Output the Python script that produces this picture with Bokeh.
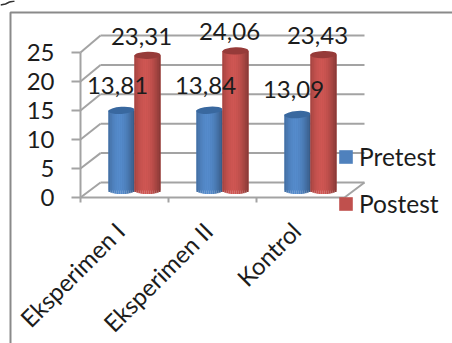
import math

from bokeh.core.properties import value
from bokeh.embed import file_html
from bokeh.models import (BoxAnnotation, FixedTicker, Legend, LegendItem,
                          LinearAxis, Range1d)
from bokeh.plotting import figure
from bokeh.resources import INLINE

categories = ["Eksperimen I", "Eksperimen II", "Kontrol"]
pretest = [13.81, 13.84, 13.09]
posttest = [23.31, 24.06, 23.43]
value_ticks = [0, 5, 10, 15, 20, 25]

W, H = 452, 343
FONT = "Lato"
TEXT = "#1c1c1c"
AXIS = "#a3a3a3"
CAT_PX = 88.0       # width of one category along the floor
X0_PX = 80.0        # left end of the front floor edge
FRONT_ZERO, PX_PER_UNIT = 197.0, 5.8
BACK_ZERO, BACK_PX_PER_UNIT = 182.0, 5.88
BAR_ZERO = 190.0
DEPTH_PX = 20.0
BAR_PX = 26.0
CAP_PX = 3.6


def px_range(zero_px, scale):
    return Range1d((zero_px - H) / scale, zero_px / scale)


p = figure(width=W, height=H, output_backend="svg", toolbar_location=None,
           min_border=0, outline_line_color=None, background_fill_color="white",
           border_fill_color="white",
           x_range=Range1d(-X0_PX / CAT_PX, (W - X0_PX) / CAT_PX),
           y_range=px_range(FRONT_ZERO, PX_PER_UNIT),
           x_axis_type=None, y_axis_type=None)
p.grid.visible = False
p.extra_y_ranges = {"back": px_range(BACK_ZERO, BACK_PX_PER_UNIT),
                    "bars": px_range(BAR_ZERO, PX_PER_UNIT)}

# Outer chart frame, open to the right and at the bottom
p.add_layout(BoxAnnotation(left=10, right=W + 20, top=12, bottom=H + 20,
                           left_units="canvas", right_units="canvas",
                           top_units="canvas", bottom_units="canvas",
                           fill_alpha=0, line_color="#8a8a8a", line_width=2,
                           line_alpha=1, level="underlay"))

# Pen stroke in the top-left corner of the page
p.line(x=[(x - X0_PX) / CAT_PX for x in (0, 5, 9, 14)],
       y=[(FRONT_ZERO - y) / PX_PER_UNIT for y in (4.5, 3.5, 1.5, 0.5)],
       line_color="#333333", line_width=1.5)

# Back wall gridlines and the slanted side-wall lines leading to them
depth = DEPTH_PX / CAT_PX
n_cat = len(categories)
p.segment(x0=[depth] * len(value_ticks), x1=[n_cat + depth] * len(value_ticks),
          y0=value_ticks, y1=value_ticks, y_range_name="back",
          line_color=AXIS, line_width=2)
p.segment(x0=[0] * len(value_ticks), x1=[depth] * len(value_ticks),
          y0=value_ticks,
          y1=[(FRONT_ZERO - BACK_ZERO + v * BACK_PX_PER_UNIT) / PX_PER_UNIT
              for v in value_ticks],
          line_color=AXIS, line_width=2)
p.segment(x0=[n_cat], x1=[n_cat + depth], y0=[0],
          y1=[(FRONT_ZERO - BACK_ZERO) / PX_PER_UNIT],
          line_color=AXIS, line_width=2)


def shade(rgb, k):
    return "#%02x%02x%02x" % tuple(min(255, int(c * k)) for c in rgb)


def cylinder(vals, offset_px, rgb, cap_color, cap_angle):
    """Draw one series as cylinders built from thin shaded vertical strips."""
    width = BAR_PX / CAT_PX
    xs = [i + 0.5 + offset_px / CAT_PX for i in range(len(vals))]
    body = p.vbar(x=xs, top=vals, bottom=0, width=width, y_range_name="bars",
                  fill_color=shade(rgb, 1.0), line_color=None)
    n = 13
    sx, sbottom, stop, scolor = [], [], [], []
    for x, v in zip(xs, vals):
        for j in range(n):
            t = (j + 0.5) / n * 2 - 1
            sx.append(x + t * width / 2)
            sbottom.append(-CAP_PX / PX_PER_UNIT * math.sqrt(1 - t * t))
            stop.append(v)
            # lit from left of centre, darkening towards both edges
            scolor.append(shade(rgb, 0.72 + 0.36 * math.cos((t + 0.15) * 1.45)))
    p.vbar(x=sx, top=stop, bottom=sbottom, width=width / n * 1.08,
           y_range_name="bars", fill_color=scolor, line_color=None)
    p.ellipse(x=xs, y=vals, width=width, height=2 * CAP_PX / PX_PER_UNIT,
              angle=cap_angle, y_range_name="bars",
              fill_color=cap_color, line_color=None)
    return body, xs


blue_body, blue_x = cylinder(pretest, -3.0, (79, 129, 189), "#39689f", 0.07)
red_body, red_x = cylinder(posttest, 23.0, (192, 80, 77), "#963b39", 0.03)

# Value labels above each cylinder
label_style = dict(y_range_name="bars", text_font=value(FONT),
                   text_font_size="24px", text_color=TEXT,
                   text_align="center", text_baseline="middle")
p.text(x=blue_x, y=pretest, text=[f"{v:.2f}".replace(".", ",") for v in pretest],
       x_offset=-4, y_offset=-25, **label_style)
p.text(x=red_x, y=posttest, text=[f"{v:.2f}".replace(".", ",") for v in posttest],
       x_offset=-6, y_offset=-19, **label_style)

# Value axis on the front-left edge
y_axis = LinearAxis(ticker=FixedTicker(ticks=value_ticks), fixed_location=0,
                    bounds=(0, 25), axis_line_color=AXIS, axis_line_width=2,
                    major_tick_line_color=AXIS, major_tick_line_width=2,
                    major_tick_in=0, major_tick_out=9, minor_tick_line_color=None,
                    major_label_standoff=17, major_label_text_font=FONT,
                    major_label_text_font_size="24px",
                    major_label_text_color=TEXT)
p.add_layout(y_axis, "left")

# Floor edge: slanted category names at the centres, ticks between the groups
label_shift = -0.05
centers = [i + 0.5 + label_shift for i in range(n_cat)]
cat_axis = LinearAxis(ticker=FixedTicker(ticks=centers,
                                         minor_ticks=list(range(n_cat))),
                      fixed_location=0, bounds=(0, n_cat),
                      axis_line_color=AXIS, axis_line_width=2,
                      major_tick_line_color=None, major_tick_in=0, major_tick_out=0,
                      minor_tick_line_color=AXIS, minor_tick_line_width=2,
                      minor_tick_in=0, minor_tick_out=5,
                      major_label_overrides=dict(zip(centers, categories)),
                      major_label_orientation=math.pi / 4,
                      major_label_standoff=24, major_label_text_font=FONT,
                      major_label_text_font_size="24px",
                      major_label_text_color=TEXT)
p.add_layout(cat_axis, "below")

legend = Legend(items=[LegendItem(label="Pretest", renderers=[blue_body]),
                       LegendItem(label="Postest", renderers=[red_body])],
                location=(337, 125), orientation="vertical", spacing=18,
                glyph_width=17, glyph_height=17, label_standoff=5, margin=0,
                padding=10, background_fill_alpha=0, border_line_color=None,
                label_text_font=FONT, label_text_font_size="24.5px",
                label_text_color=TEXT, label_height=22)
p.add_layout(legend)

open("out.html", "w").write(file_html(p, INLINE))
